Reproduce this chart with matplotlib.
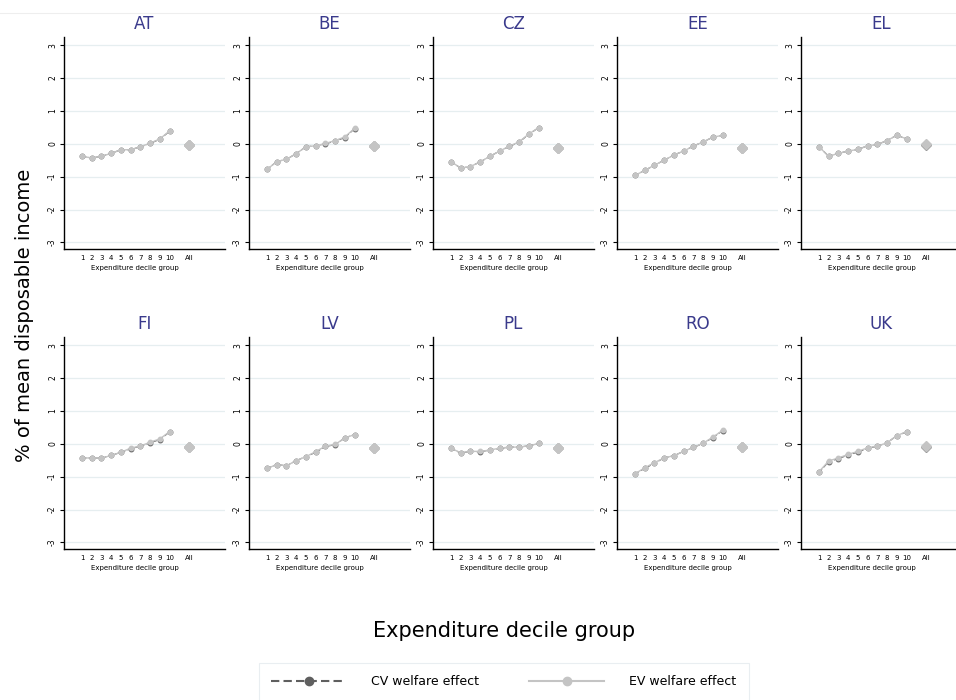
import matplotlib
matplotlib.use("Agg")
import matplotlib.pyplot as plt
from matplotlib.lines import Line2D
import numpy as np

countries = ["AT", "BE", "CZ", "EE", "EL", "FI", "LV", "PL", "RO", "UK"]
deciles = [1, 2, 3, 4, 5, 6, 7, 8, 9, 10]
xtick_labels = ["1", "2", "3", "4", "5", "6", "7", "8", "9", "10", "All"]

# EV welfare effect by decile (% of mean disposable income)
ev = {
    "AT": [-0.38, -0.43, -0.38, -0.29, -0.18, -0.18, -0.09, 0.02, 0.15, 0.39],
    "BE": [-0.78, -0.54, -0.47, -0.30, -0.09, -0.06, 0.01, 0.10, 0.21, 0.47],
    "CZ": [-0.54, -0.74, -0.69, -0.55, -0.38, -0.22, -0.07, 0.06, 0.30, 0.49],
    "EE": [-0.96, -0.81, -0.65, -0.50, -0.34, -0.22, -0.07, 0.06, 0.20, 0.26],
    "EL": [-0.09, -0.38, -0.29, -0.22, -0.17, -0.06, -0.02, 0.10, 0.26, 0.15],
    "FI": [-0.43, -0.43, -0.44, -0.35, -0.26, -0.13, -0.07, 0.05, 0.15, 0.37],
    "LV": [-0.75, -0.63, -0.67, -0.51, -0.39, -0.24, -0.07, -0.02, 0.18, 0.28],
    "PL": [-0.14, -0.27, -0.23, -0.23, -0.19, -0.13, -0.10, -0.10, -0.06, 0.01],
    "RO": [-0.91, -0.73, -0.57, -0.43, -0.36, -0.23, -0.11, 0.02, 0.20, 0.41],
    "UK": [-0.85, -0.52, -0.43, -0.32, -0.23, -0.12, -0.07, 0.03, 0.25, 0.37],
}
ev_all = {"AT": -0.04, "BE": -0.06, "CZ": -0.12, "EE": -0.12, "EL": -0.01,
          "FI": -0.09, "LV": -0.12, "PL": -0.12, "RO": -0.09, "UK": -0.08}

# CV welfare effect by decile
cv = {
    "AT": [-0.38, -0.43, -0.38, -0.29, -0.18, -0.18, -0.09, 0.01, 0.14, 0.38],
    "BE": [-0.78, -0.54, -0.47, -0.30, -0.09, -0.06, 0.00, 0.08, 0.19, 0.46],
    "CZ": [-0.54, -0.74, -0.69, -0.55, -0.38, -0.22, -0.08, 0.05, 0.29, 0.49],
    "EE": [-0.96, -0.81, -0.65, -0.50, -0.34, -0.22, -0.07, 0.06, 0.20, 0.26],
    "EL": [-0.09, -0.38, -0.29, -0.22, -0.17, -0.06, -0.02, 0.10, 0.26, 0.15],
    "FI": [-0.43, -0.43, -0.44, -0.35, -0.26, -0.15, -0.07, 0.03, 0.13, 0.36],
    "LV": [-0.75, -0.63, -0.67, -0.51, -0.39, -0.26, -0.08, -0.03, 0.18, 0.28],
    "PL": [-0.14, -0.28, -0.23, -0.24, -0.19, -0.14, -0.10, -0.10, -0.06, 0.01],
    "RO": [-0.91, -0.75, -0.59, -0.43, -0.36, -0.23, -0.11, 0.01, 0.19, 0.40],
    "UK": [-0.87, -0.54, -0.45, -0.34, -0.25, -0.14, -0.07, 0.03, 0.25, 0.36],
}
cv_all = {"AT": -0.04, "BE": -0.08, "CZ": -0.12, "EE": -0.12, "EL": -0.03,
          "FI": -0.09, "LV": -0.12, "PL": -0.12, "RO": -0.09, "UK": -0.10}

ev_col = "#c4c4c4"
cv_col = "#5f5f5f"
title_col = "#3a3a8c"
grid_col = "#e6eef0"

fig = plt.figure(figsize=(9.56, 7.0), dpi=100)
W, H = 956.0, 700.0

lefts = [64, 249, 433, 617, 801]
row_bottoms = [249, 549]
ax_w = 161
ax_h = 212

xpos = deciles + [12]

for i, c in enumerate(countries):
    row, col = divmod(i, 5)
    l = lefts[col] / W
    b = 1 - row_bottoms[row] / H
    ax = fig.add_axes([l, b, ax_w / W, ax_h / H])
    ax.set_xlim(-0.85, 15.7)
    ax.set_ylim(-3.2, 3.25)
    for s in ["top", "right"]:
        ax.spines[s].set_visible(False)
    ax.spines["left"].set_linewidth(1.0)
    ax.spines["bottom"].set_linewidth(1.0)
    ax.set_yticks([-3, -2, -1, 0, 1, 2, 3])
    ax.set_yticklabels(["-3", "-2", "-1", "0", "1", "2", "3"], rotation=90,
                       va="center", fontsize=5.5)
    ax.tick_params(axis="y", length=3, width=0.8, pad=2)
    ax.set_xticks(xpos)
    ax.set_xticklabels(xtick_labels, fontsize=5)
    ax.tick_params(axis="x", length=0, pad=4)
    ax.grid(axis="y", color=grid_col, linewidth=0.9)
    ax.set_axisbelow(True)

    ax.plot(deciles, cv[c], color=cv_col, linestyle=(0, (4, 2)), linewidth=0.8,
            marker="o", markersize=3.2, zorder=3)
    ax.plot([12], [cv_all[c]], marker="D", color="#9a9a9a", markersize=5.5,
            linestyle="none", zorder=3)
    ax.plot(deciles, ev[c], color=ev_col, linestyle="-", linewidth=1.0,
            marker="o", markersize=3.2, zorder=4)
    ax.plot([12], [ev_all[c]], marker="D", color=ev_col, markersize=5.5,
            linestyle="none", zorder=4)

    ax.set_title(c, fontsize=12, color=title_col, pad=6)
    ax.set_xlabel("Expenditure decile group", fontsize=5, labelpad=1)
    ax.xaxis.set_label_coords(0.44, -0.075)

fig.add_artist(Line2D([0, 1], [1 - 13 / H, 1 - 13 / H], color="#eeeeee",
                      linewidth=0.8))

fig.text(0.026, 0.55, "% of mean disposable income", rotation=90,
         fontsize=14, ha="center", va="center")
fig.text(0.527, 0.098, "Expenditure decile group", fontsize=15,
         ha="center", va="center")

handles = [
    Line2D([], [], color=cv_col, linestyle=(0, (4, 2)), linewidth=1.5,
           marker="o", markersize=6),
    Line2D([], [], color=ev_col, linestyle="-", linewidth=1.5,
           marker="o", markersize=6),
]
leg = fig.legend(handles, ["CV welfare effect", "EV welfare effect"],
                 loc="center", bbox_to_anchor=(0.527, 0.026), ncol=2,
                 fontsize=9, frameon=True, fancybox=False, handlelength=6,
                 columnspacing=4, handletextpad=2, borderpad=1.0)
leg.get_frame().set_edgecolor("#e4eaee")
leg.get_frame().set_linewidth(0.8)

fig.savefig("out.png", dpi=100)
